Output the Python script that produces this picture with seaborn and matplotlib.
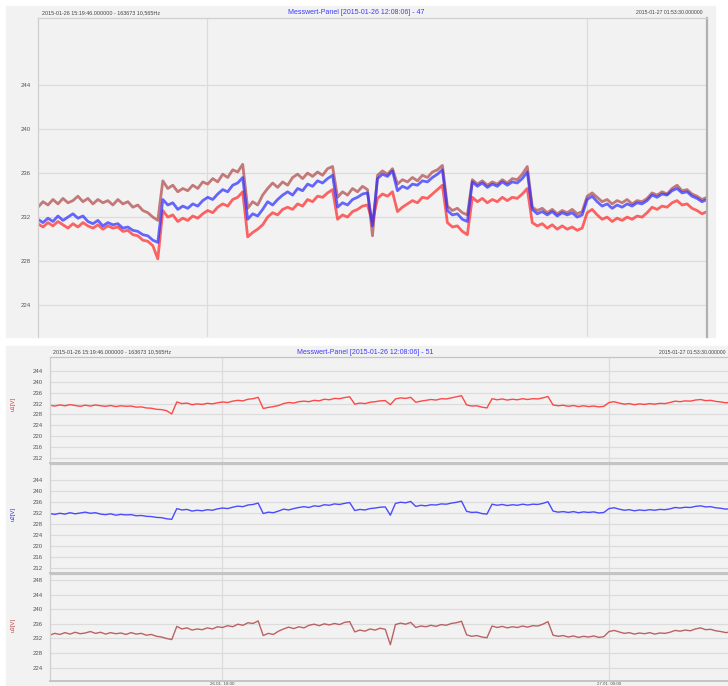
"""
Messwert-Panel screenshot: phase voltages u1/u2/u3 over one evening.
Top panel overlays the three phases, bottom panel stacks them.
"""

import pandas as pd
import matplotlib
matplotlib.use("Agg")
import matplotlib.pyplot as plt
import seaborn as sns
from matplotlib.patches import Rectangle

T_START = "2015-01-26 15:19:46"
T_END = "2015-01-27 01:53:30"
N_SAMPLES = 135

# phase voltages [V]
U1 = [231.4, 231.1, 231.5, 231.2, 231.6, 231.3, 231.0, 231.4, 231.1, 231.5,
      231.2, 231.0, 231.3, 230.9, 231.2, 231.0, 231.1, 230.7, 230.8, 230.4,
      230.3, 229.9, 229.8, 229.4, 228.2,
      232.6, 232.0, 232.2, 231.6, 231.9, 231.7, 232.1, 231.9, 232.3, 232.6,
      232.4, 232.9, 233.2, 233.0, 233.6, 233.8, 234.3,
      230.2, 230.6, 230.9, 231.3, 232.0, 232.4, 232.2, 232.7, 232.9, 232.7,
      233.2, 233.0, 233.6, 233.4, 233.9, 233.8, 234.2, 234.5,
      231.8, 232.2, 232.0, 232.5, 232.7, 233.0, 233.1, 231.6,
      233.7, 234.1, 233.9, 234.3,
      232.5, 232.9, 233.2, 233.5, 233.3, 233.8, 233.7, 234.1, 234.5, 234.9,
      231.5, 231.1, 231.2, 230.7, 230.4,
      233.8, 233.4, 233.7, 233.3, 233.6, 233.4, 233.8, 233.5, 233.8, 233.7,
      234.1, 234.6,
      231.5, 231.2, 231.4, 231.0, 231.3, 230.9, 231.2, 230.9, 231.1, 230.8,
      231.0,
      232.4, 232.7, 232.2, 231.8, 232.0, 231.6, 231.9, 231.7, 232.0, 231.8,
      232.1, 232.0, 232.4, 232.9, 232.7, 233.0, 232.9, 233.3, 233.5, 233.1,
      233.2, 232.8, 232.6, 232.3, 232.5]

U2 = [231.8, 231.5, 231.9, 231.6, 232.1, 231.7, 232.0, 232.3, 231.9, 232.1,
      231.6, 231.4, 231.7, 231.2, 231.5, 231.3, 231.4, 231.0, 231.1, 230.8,
      230.7, 230.4, 230.3, 229.9, 229.7,
      233.6, 233.1, 233.3, 232.7, 233.0, 232.8, 233.2, 233.0, 233.5, 233.8,
      233.6, 234.1, 234.5, 234.3, 234.9, 235.1, 235.6,
      231.8, 232.3, 232.1, 232.7, 233.4, 233.1, 233.6, 234.0, 234.3, 234.0,
      234.6, 234.4, 235.0, 234.8, 235.3, 235.1, 235.5, 235.8,
      232.9, 233.3, 233.1, 233.6, 233.8, 234.1, 234.2, 231.2,
      235.5, 235.9, 235.7, 236.2,
      234.4, 234.8, 234.6, 235.0, 234.9, 235.3, 235.2, 235.6, 235.9, 236.3,
      232.6, 232.2, 232.3, 231.8, 231.6,
      235.2, 234.8, 235.1, 234.7, 235.0, 234.8, 235.2, 234.9, 235.2, 235.1,
      235.5, 236.1,
      232.7, 232.3, 232.5, 232.2, 232.5, 232.1, 232.4, 232.2, 232.4, 232.0,
      232.2,
      233.6, 233.9, 233.4, 233.0, 233.2, 232.8, 233.1, 232.9, 233.2, 233.0,
      233.3, 233.2, 233.5, 234.0, 233.8, 234.1, 234.0, 234.4, 234.6, 234.2,
      234.3, 233.9, 233.7, 233.4, 233.6]

U3 = [232.9, 233.4, 233.1, 233.6, 233.2, 233.7, 233.3, 233.5, 233.9, 233.4,
      233.7, 233.2, 233.6, 233.3, 233.5, 233.1, 233.6, 233.2, 233.4, 232.9,
      233.1, 232.6, 232.4, 232.0, 231.7,
      235.3, 234.6, 234.9, 234.3, 234.6, 234.4, 234.9, 234.6, 235.2, 235.0,
      235.5, 235.2, 235.9, 235.6, 236.3, 236.1, 236.8,
      232.8, 233.4, 233.1, 234.0, 234.6, 235.1, 234.7, 235.2, 234.9, 235.6,
      235.9, 235.5, 236.0, 235.7, 236.1, 235.8, 236.4, 236.6,
      233.8, 234.3, 234.0, 234.6, 234.3, 234.8, 234.5, 230.3,
      235.8, 236.2, 235.9, 236.4,
      235.0, 235.4, 235.2, 235.6, 235.3, 235.8, 235.6, 236.1, 236.3, 236.7,
      233.0, 232.6, 232.8, 232.4, 232.2,
      235.4, 235.0, 235.3, 234.9, 235.2, 235.0, 235.4, 235.1, 235.5, 235.4,
      235.9, 236.6,
      232.9, 232.6, 232.8, 232.4, 232.7, 232.3, 232.6, 232.4, 232.7, 232.3,
      232.5,
      233.9, 234.2, 233.8, 233.4, 233.6, 233.2, 233.5, 233.3, 233.6, 233.2,
      233.5, 233.4, 233.7, 234.2, 234.0, 234.3, 234.1, 234.6, 234.9, 234.4,
      234.5, 234.1, 233.9, 233.6, 233.8]

Y_TICKS_TOP = [224, 228, 232, 236, 240, 244]
Y_TICKS_U12 = [212, 216, 220, 224, 228, 232, 236, 240, 244]
Y_TICKS_U3 = [224, 228, 232, 236, 240, 244, 248]
GRID_TIMES = ["2015-01-26 18:00", "2015-01-27 00:00"]

HEADER_LEFT = "2015-01-26 15:19:46.000000 - 163673 10,565Hz"
HEADER_RIGHT = "2015-01-27 01:53:30.000000"
TITLE_TOP = "Messwert-Panel [2015-01-26 12:08:06] - 47"
TITLE_BOTTOM = "Messwert-Panel [2015-01-26 12:08:06] - 51"

RED = "#ff2b2b"
BLUE = "#2f2fff"
BROWN = "#b24a4a"
PANEL_BG = "#f2f2f2"
GRID = "#dcdcdc"
TEXT = "#555555"

W, H = 728, 686


def fx(px):
    return px / W


def fy(py):
    return 1 - py / H


def axes_px(fig, x0, y0, x1, y1):
    return fig.add_axes([fx(x0), fy(y1), fx(x1) - fx(x0), fy(y0) - fy(y1)])


def style_axes(ax, ylim, yticks, t0, t1, grid_t):
    ax.set_facecolor(PANEL_BG)
    ax.set_xlim(t0, t1)
    ax.set_ylim(*ylim)
    ax.set_yticks(yticks)
    ax.set_xticks(grid_t)
    ax.grid(True, color=GRID, lw=0.9)
    ax.set_axisbelow(True)
    ax.tick_params(length=0, labelsize=4.3, colors=TEXT, pad=5)
    ax.set_xlabel("")
    ax.set_ylabel("")
    for s in ax.spines.values():
        s.set_color("#d0d0d0")
        s.set_linewidth(0.9)


def main():
    sns.set_style("white")
    plt.rcParams["font.family"] = ["Liberation Sans", "DejaVu Sans"]

    times = pd.date_range(T_START, T_END, periods=N_SAMPLES)
    df = pd.DataFrame({"time": times, "u1": U1, "u2": U2, "u3": U3})
    t0, t1 = times[0], times[-1]
    grid_t = pd.to_datetime(GRID_TIMES)

    fig = plt.figure(figsize=(W / 100, H / 100), dpi=100)
    fig.patch.set_facecolor("white")

    # panel backgrounds, kept behind the axes
    for (a, b, c, d) in ((6, 6, 715, 337), (6, 346, 728, 686)):
        fig.patches.append(Rectangle((fx(a), fy(d)), fx(c) - fx(a), fy(b) - fy(d),
                                     transform=fig.transFigure, color=PANEL_BG,
                                     zorder=-10))

    # ---- top panel: all three phases overlaid (noisy bands)
    ax = axes_px(fig, 38, 18, 707, 337)
    for col, c in (("u3", BROWN), ("u1", RED), ("u2", BLUE)):
        sns.lineplot(data=df, x="time", y=col, ax=ax, color=c, lw=2.0,
                     alpha=0.72, estimator=None)
    style_axes(ax, (221.1, 250.1), Y_TICKS_TOP, t0, t1, grid_t)
    ax.set_xticklabels([])
    ax.spines["bottom"].set_visible(False)
    ax.spines["right"].set_color("#b0b0b0")
    ax.spines["right"].set_linewidth(1.6)

    fig.text(fx(42), fy(13), HEADER_LEFT, fontsize=3.9, color="#444444", va="center")
    fig.text(fx(356), fy(13), TITLE_TOP, fontsize=5, color="#3a3aff",
             ha="center", va="center")
    fig.text(fx(703), fy(13), HEADER_RIGHT, fontsize=3.7, color="#444444",
             ha="right", va="center")

    # ---- bottom panel: stacked phases (panel is wider than the screenshot)
    x0, x1 = 49.7, 731
    rows = [
        ("u1", RED, 357, 463, (210.2, 249.1), Y_TICKS_U12, 404),
        ("u2", BLUE, 464, 573, (210.2, 249.8), Y_TICKS_U12, 514),
        ("u3", BROWN, 574, 681, (220.4, 249.6), Y_TICKS_U3, 625),
    ]
    for i, (col, c, ytop, ybot, ylim, ticks, ylab) in enumerate(rows):
        ax = axes_px(fig, x0, ytop, x1, ybot)
        sns.lineplot(data=df, x="time", y=col, ax=ax, color=c, lw=1.0,
                     alpha=0.85, estimator=None)
        style_axes(ax, ylim, ticks, t0, t1, grid_t)
        ax.spines["right"].set_visible(False)
        ax.spines["top"].set_color("#c4c4c4")
        ax.spines["bottom"].set_color("#c4c4c4")
        ax.spines["bottom"].set_linewidth(1.4)
        if i < 2:
            ax.set_xticklabels([])
        else:
            ax.set_xticklabels([t.strftime("%d.%m. %H:%M") for t in grid_t])
            ax.tick_params(axis="x", pad=0.5, labelsize=3.2)
        fig.text(fx(13), fy(ylab), f"{col}[V]", fontsize=4.3, color=c,
                 rotation=90, ha="center", va="center")

    fig.text(fx(53), fy(352), HEADER_LEFT, fontsize=3.9, color="#444444", va="center")
    fig.text(fx(365), fy(352), TITLE_BOTTOM, fontsize=5, color="#3a3aff",
             ha="center", va="center")
    fig.text(fx(659), fy(352), HEADER_RIGHT, fontsize=3.7, color="#444444",
             va="center")

    fig.savefig("out.png", dpi=100)
    plt.close(fig)


if __name__ == "__main__":
    main()
